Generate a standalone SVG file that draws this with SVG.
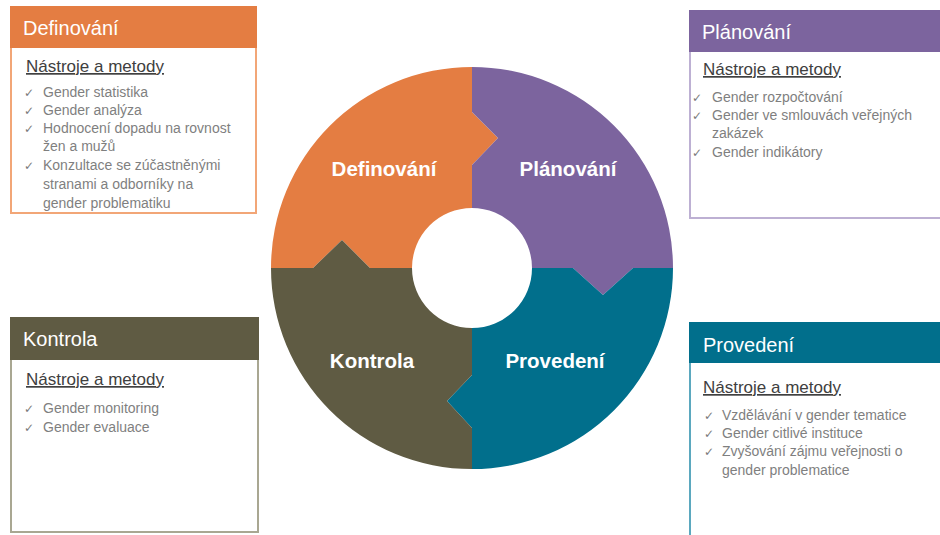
<svg xmlns="http://www.w3.org/2000/svg" width="940" height="535" viewBox="0 0 940 535">
<style>
.seglabel{font-family:"Liberation Sans",Arial,sans-serif;font-weight:bold;font-size:20.5px;fill:#ffffff;text-anchor:middle}
.title{font-family:"Liberation Sans",Arial,sans-serif;font-size:20px;fill:#ffffff}
.sub{font-family:"Liberation Sans",Arial,sans-serif;font-size:17px;fill:#404040;text-decoration:underline}
.item{font-family:"Liberation Sans",Arial,sans-serif;font-size:14px;fill:#7f7f7f}
.chk{font-family:"DejaVu Sans",sans-serif;font-size:12px;fill:#7a7a7a}
.box{fill:#ffffff;stroke-width:2}
</style>
<rect width="940" height="535" fill="#ffffff"/>

<g id="cycle">
  <g id="seg-definovani">
    <path d="M271,268 A201,201 0 0 1 472,67 L472,112 L498,138 L472,165 L472,208 A60,60 0 0 0 412,268 L370,268 L342,240 L313,268 Z" fill="#E47D42"/>
    <text class="seglabel" x="384" y="176">Definování</text>
  </g>
  <g id="seg-planovani">
    <path d="M472,67 A201,201 0 0 1 673,268 L633,268 L603,295 L573,268 L532,268 A60,60 0 0 0 472,208 L472,165 L498,138 L472,112 Z" fill="#7C649E"/>
    <text class="seglabel" x="568" y="176">Plánování</text>
  </g>
  <g id="seg-provedeni">
    <path d="M673,268 A201,201 0 0 1 472,469 L472,428 L447,401 L472,375 L472,328 A60,60 0 0 0 532,268 L573,268 L603,295 L633,268 Z" fill="#016F8C"/>
    <text class="seglabel" x="555" y="368">Provedení</text>
  </g>
  <g id="seg-kontrola">
    <path d="M472,469 A201,201 0 0 1 271,268 L313,268 L342,240 L370,268 L412,268 A60,60 0 0 0 472,328 L472,375 L447,401 L472,428 Z" fill="#5F5B43"/>
    <text class="seglabel" x="372" y="368">Kontrola</text>
  </g>
</g>

<g id="box-definovani">
  <rect class="box" x="11" y="7" width="245" height="206" stroke="#F2A677"/>
  <rect x="10" y="6" width="247" height="42" fill="#E47D42"/>
  <text class="title" x="23" y="35">Definování</text>
  <text class="sub" x="26" y="72">Nástroje a metody</text>
  <text class="chk" x="24" y="97">✓</text><text class="item" x="43" y="97">Gender statistika</text>
  <text class="chk" x="24" y="115">✓</text><text class="item" x="43" y="115">Gender analýza</text>
  <text class="chk" x="24" y="133">✓</text><text class="item" x="43" y="133">Hodnocení dopadu na rovnost</text>
  <text class="item" x="43" y="151">žen a mužů</text>
  <text class="chk" x="24" y="170">✓</text><text class="item" x="43" y="170">Konzultace se zúčastněnými</text>
  <text class="item" x="43" y="189">stranami a odborníky na</text>
  <text class="item" x="43" y="208">gender problematiku</text>
</g>

<g id="box-planovani">
  <rect class="box" x="690" y="11" width="260" height="207" stroke="#BDB0D3"/>
  <rect x="689" y="10" width="260" height="42" fill="#7C649E"/>
  <text class="title" x="702" y="39">Plánování</text>
  <text class="sub" x="703" y="75">Nástroje a metody</text>
  <text class="chk" x="692" y="102">✓</text><text class="item" x="712" y="102">Gender rozpočtování</text>
  <text class="chk" x="692" y="120">✓</text><text class="item" x="712" y="120">Gender ve smlouvách veřejných</text>
  <text class="item" x="712" y="138">zakázek</text>
  <text class="chk" x="692" y="157">✓</text><text class="item" x="712" y="157">Gender indikátory</text>
</g>

<g id="box-kontrola">
  <rect class="box" x="11" y="318" width="247" height="214" stroke="#A9A792"/>
  <rect x="10" y="317" width="249" height="43" fill="#5F5B43"/>
  <text class="title" x="23" y="346">Kontrola</text>
  <text class="sub" x="26" y="385">Nástroje a metody</text>
  <text class="chk" x="24" y="413">✓</text><text class="item" x="43" y="413">Gender monitoring</text>
  <text class="chk" x="24" y="432">✓</text><text class="item" x="43" y="432">Gender evaluace</text>
</g>

<g id="box-provedeni">
  <rect class="box" x="690" y="323" width="260" height="230" stroke="#5BA8BF"/>
  <rect x="689" y="322" width="260" height="41" fill="#016F8C"/>
  <text class="title" x="703" y="352">Provedení</text>
  <text class="sub" x="703" y="393">Nástroje a metody</text>
  <text class="chk" x="704" y="420">✓</text><text class="item" x="722" y="420">Vzdělávání v gender tematice</text>
  <text class="chk" x="704" y="438">✓</text><text class="item" x="722" y="438">Gender citlivé instituce</text>
  <text class="chk" x="704" y="456">✓</text><text class="item" x="722" y="456">Zvyšování zájmu veřejnosti o</text>
  <text class="item" x="722" y="475">gender problematice</text>
</g>

<g id="connectors"/>
</svg>
